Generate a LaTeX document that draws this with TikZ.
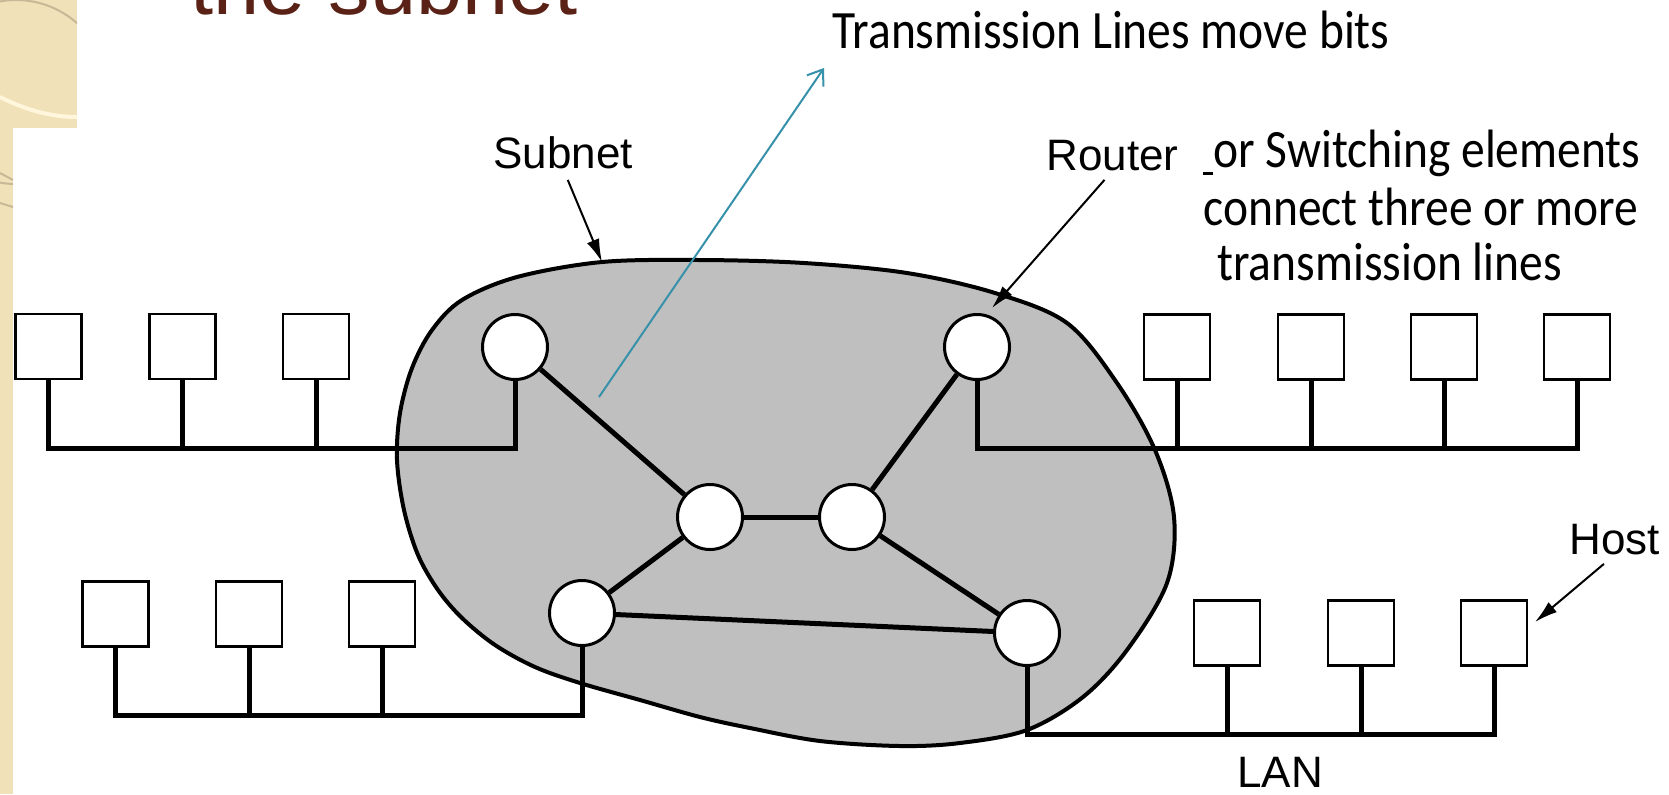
\documentclass[tikz,border=0pt]{standalone}
\usepackage{fontspec}
\setmainfont{Liberation Sans}
\newfontfamily\annfont{Carlito}
\usetikzlibrary{arrows.meta}
\definecolor{beige}{RGB}{241,225,185}
\definecolor{blobgray}{RGB}{191,191,191}
\definecolor{titlebrown}{RGB}{90,34,22}
\definecolor{tealline}{RGB}{55,145,170}
\definecolor{arcgray}{RGB}{200,185,150}
\definecolor{cream}{RGB}{255,246,220}
\begin{document}
\begin{tikzpicture}[x=0.5pt,y=-0.5pt,
  router/.style={circle,draw=black,fill=white,line width=1.5pt,minimum size=32.5pt,inner sep=0pt},
  hostbox/.style={rectangle,draw=black,fill=white,line width=1.25pt,minimum width=33pt,minimum height=32.5pt,inner sep=0pt},
  link/.style={line width=2.5pt},
  bus/.style={line width=2.5pt,line join=miter},
  lbl/.style={font=\fontsize{22pt}{26pt}\selectfont,inner sep=0pt,anchor=base west},
  ann/.style={font=\annfont\fontsize{27pt}{32pt}\selectfont,inner sep=0pt,anchor=base west},
  callout/.style={line width=1pt,-{Latex[length=11.5pt,width=6.5pt]}},
]
\useasboundingbox (0,0) rectangle (1669,794);
\clip (0,0) rectangle (1669,794);
\fill[white] (0,0) rectangle (1669,794);

% background decoration
\fill[beige] (0,0) rectangle (77,128);
\fill[beige] (0,128) rectangle (13,794);
\begin{scope}
  \clip (0,0) rectangle (77,128) (0,128) rectangle (13,794);
  \draw[arcgray, line width=1pt] (16,92) circle[radius=92];
  \draw[cream, line width=2pt] (0,97) .. controls (30,112) and (55,117) .. (77,117);
  \draw[arcgray, line width=1pt] (0,173) .. controls (6,176) .. (13,180);
  \draw[arcgray, line width=1pt] (0,203) .. controls (6,205) .. (13,207);
\end{scope}

% title
\node[font=\fontsize{41.5pt}{48pt}\selectfont, text=titlebrown, inner sep=0pt, anchor=base west] (title) at (190,14) {the subnet};

% subnet blob
\draw[fill=blobgray, line width=2pt] plot[smooth cycle, tension=0.55] coordinates {
  (602,262) (700,260) (804,263) (907,273) (995,293) (1067,323) (1117,383)
  (1155,450) (1174,517) (1167,583) (1127,650) (1083,697) (1027,730)
  (960,743) (900,746) (820,741) (750,728) (700,717) (640,700) (580,683)
  (535,667) (495,645) (462,618) (438,590) (418,555) (404,510) (397,460)
  (400,413) (412,368) (432,330) (462,300) (517,277)};

% routers
\node[router] (R1) at (515,347) {};
\node[router] (R5) at (977,347) {};
\node[router] (R2) at (710,517) {};
\node[router] (R3) at (852,517) {};
\node[router] (R6) at (582,613) {};
\node[router] (R4) at (1027,633) {};

% hosts
\node[hostbox] (tl1) at (48.5,346.5) {};
\node[hostbox] (tl2) at (182.5,346.5) {};
\node[hostbox] (tl3) at (316,346.5) {};
\node[hostbox] (bl1) at (115.5,614) {};
\node[hostbox] (bl2) at (249,614) {};
\node[hostbox] (bl3) at (382,614) {};
\node[hostbox] (tr1) at (1177,347) {};
\node[hostbox] (tr2) at (1311,347) {};
\node[hostbox] (tr3) at (1444,347) {};
\node[hostbox] (tr4) at (1577,347) {};
\node[hostbox] (br1) at (1227,633) {};
\node[hostbox] (br2) at (1361,633) {};
\node[hostbox] (br3) at (1494,633) {};

% buses
\coordinate (busTL) at (0,448);
\coordinate (busTR) at (0,448);
\coordinate (busBL) at (0,715);
\coordinate (busBR) at (0,734);
\draw[bus] (tl1.south) -- (tl1.south |- busTL) -- (R1.south |- busTL) -- (R1.south);
\draw[bus] (tl2.south) -- (tl2.south |- busTL);
\draw[bus] (tl3.south) -- (tl3.south |- busTL);
\draw[bus] (R5.south) -- (R5.south |- busTR) -- (tr4.south |- busTR) -- (tr4.south);
\draw[bus] (tr1.south) -- (tr1.south |- busTR);
\draw[bus] (tr2.south) -- (tr2.south |- busTR);
\draw[bus] (tr3.south) -- (tr3.south |- busTR);
\draw[bus] (bl1.south) -- (bl1.south |- busBL) -- (R6.south |- busBL) -- (R6.south);
\draw[bus] (bl2.south) -- (bl2.south |- busBL);
\draw[bus] (bl3.south) -- (bl3.south |- busBL);
\draw[bus] (R4.south) -- (R4.south |- busBR) -- (br3.south |- busBR) -- (br3.south);
\draw[bus] (br1.south) -- (br1.south |- busBR);
\draw[bus] (br2.south) -- (br2.south |- busBR);

% subnet links
\draw[link] (R1) -- (R2);
\draw[link] (R2) -- (R3);
\draw[link] (R2) -- (R6);
\draw[link] (R3) -- (R5);
\draw[link] (R3) -- (R4);
\draw[link] (R6) -- (R4);

% labels
\node[lbl] (sublbl) at (493,168) {Subnet};
\node[lbl] (rtlbl) at (1046,170) {Router};
\node[lbl] (hostlbl) at (1569,554) {Host};
\node[lbl] (lanlbl) at (1237,787) {LAN};

\coordinate (subtip) at (602,262);
\coordinate (rttip) at (992,308);
\coordinate (hosttip) at (1535,622);
\draw[callout, shorten <=6pt] (sublbl.south) -- (subtip);
\draw[callout, shorten <=6pt] (rtlbl.south) -- (rttip);
\draw[callout, shorten <=7pt] (hostlbl.south) -- (hosttip);

% annotations
\node[ann] (tmlbl) at (832,48) {\scalebox{0.88}[1]{Transmission Lines move bits}};
\node[ann] (sw1) at (1213,167) {\scalebox{0.88}[1]{or Switching elements}};
\node[ann] (sw2) at (1203,225) {\scalebox{0.88}[1]{connect three or more}};
\node[ann] (sw3) at (1217,280) {\scalebox{0.88}[1]{transmission lines}};
\fill (1203,172) rectangle (1213,175);

\coordinate (tlfoot) at (599,397);
\coordinate (tltip) at (824,68);
\draw[tealline, line width=1pt, -{Straight Barb[length=7pt,width=10pt]}] (tlfoot) -- (tltip);
\end{tikzpicture}
\end{document}
